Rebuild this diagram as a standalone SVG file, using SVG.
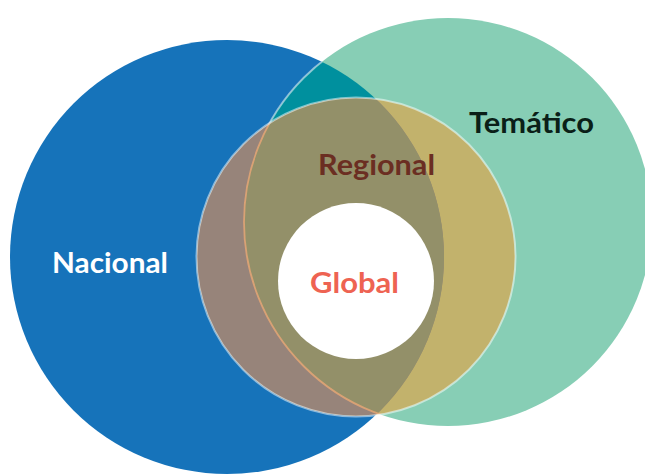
<svg xmlns="http://www.w3.org/2000/svg" width="645" height="474" viewBox="0 0 645 474">
<style>
.lbl{font-family:Lato,"Open Sans","Liberation Sans",sans-serif;font-weight:700;font-size:28px}
</style>
<defs>
<clipPath id="cBlue"><circle cx="227" cy="257" r="217"/></clipPath>
<clipPath id="cGreen"><circle cx="448" cy="222" r="204"/></clipPath>
<clipPath id="cReg"><circle cx="356" cy="257" r="159"/></clipPath>
</defs>
<rect width="645" height="474" fill="#ffffff"/>
<g id="nacional">
<circle cx="227" cy="257" r="217" fill="#1673BA"/>
</g>
<g id="tematico">
<circle cx="448" cy="222" r="204" fill="#87CEB5"/>
<circle cx="448" cy="222" r="204" fill="#00909E" clip-path="url(#cBlue)"/>
<circle cx="448" cy="222" r="204" fill="none" stroke="#ffffff" stroke-opacity="0.5" stroke-width="2" clip-path="url(#cBlue)"/>
</g>
<g id="regional">
<circle cx="356" cy="257" r="159" fill="#C2B26C"/>
<g clip-path="url(#cReg)">
<circle cx="227" cy="257" r="217" fill="#97847A"/>
<g clip-path="url(#cBlue)">
<circle cx="448" cy="222" r="204" fill="#939069"/>
</g>
<circle cx="448" cy="222" r="204" fill="none" stroke="#E4A676" stroke-opacity="0.85" stroke-width="1.8"/>
</g>
<circle cx="356" cy="257" r="159.5" fill="none" stroke="#ffffff" stroke-opacity="0.5" stroke-width="2"/>
</g>
<g id="global">
<circle cx="356" cy="281" r="78" fill="#ffffff"/>
</g>
<g id="labels">
<text class="lbl" x="52" y="273" fill="#ffffff" textLength="116" lengthAdjust="spacingAndGlyphs">Nacional</text>
<text class="lbl" x="469" y="133" fill="#0B1F18" textLength="125" lengthAdjust="spacingAndGlyphs">Temático</text>
<text class="lbl" x="318" y="175" fill="#6B2E22" textLength="117" lengthAdjust="spacingAndGlyphs">Regional</text>
<text class="lbl" x="310" y="293" fill="#EE6352" textLength="89" lengthAdjust="spacingAndGlyphs">Global</text>
</g>
</svg>
